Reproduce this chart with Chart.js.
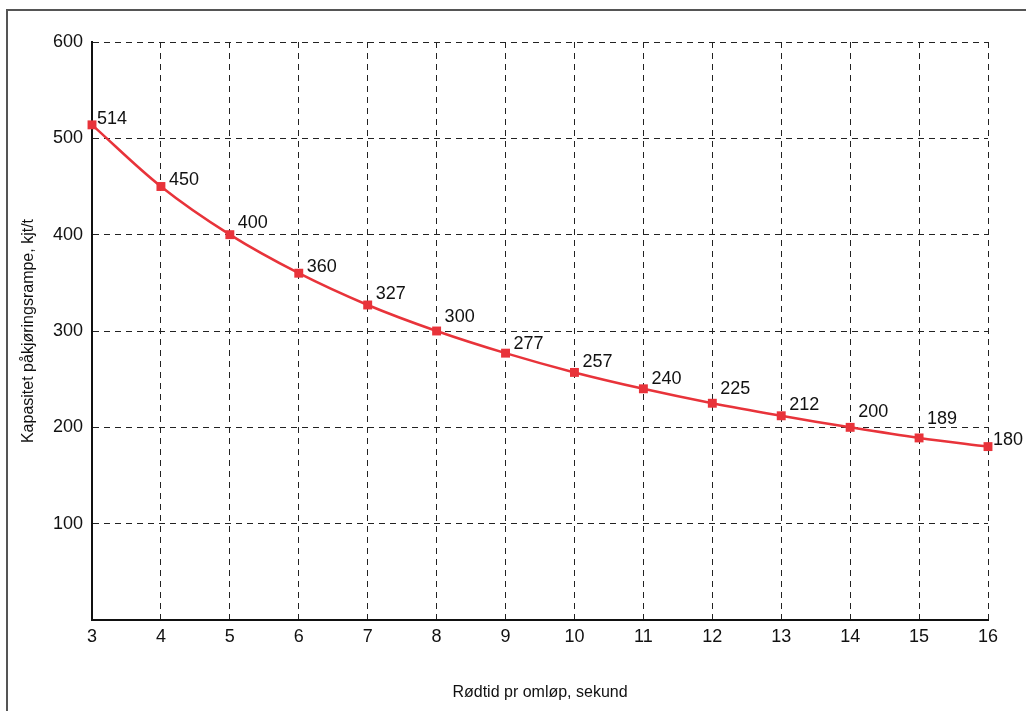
<!DOCTYPE html>
<html>
<head>
<meta charset="utf-8">
<script src="https://cdn.jsdelivr.net/npm/chart.js@4"></script>
<style>
  body { margin: 0; background: #fff; }
  #wrap { position: relative; width: 1026px; height: 711px; }
  #frame {
    position: absolute; left: 6px; top: 9px; right: -10px; bottom: -10px;
    border-top: 2px solid #555; border-left: 2px solid #555;
    pointer-events: none;
  }
</style>
</head>
<body>
<div id="wrap">
  <canvas id="chart" width="1026" height="711"></canvas>
  <div id="frame"></div>
</div>
<script>
// Rødtid (sekund) og kapasitet (kjt/t)
const redTime = [3, 4, 5, 6, 7, 8, 9, 10, 11, 12, 13, 14, 15, 16];
const capacity = [514, 450, 400, 360, 327, 300, 277, 257, 240, 225, 212, 200, 189, 180];
const yTicks = [0, 100, 200, 300, 400, 500, 600];

// how far each value label sits above its point (px), as placed in the original
const labelLift = [1, 2, 7, 1, 6, 9, 4, 5, 5, 9, 6, 10, 14, 2];

const lineColor = "#e8333a";
const fontFamily = "'Liberation Sans', Arial, sans-serif";

// draws the value next to each point
const valueLabels = {
  id: "valueLabels",
  afterDatasetsDraw(chart) {
    const ctx = chart.ctx;
    const meta = chart.getDatasetMeta(0);
    ctx.save();
    ctx.font = "18px " + fontFamily;
    ctx.fillStyle = "#111";
    ctx.textAlign = "left";
    ctx.textBaseline = "alphabetic";
    meta.data.forEach((pt, i) => {
      const dx = i === 0 || i === meta.data.length - 1 ? 5 : 8;
      ctx.fillText(String(capacity[i]), pt.x + dx, pt.y - labelLift[i]);
    });
    ctx.restore();
  },
};

const ctx = document.getElementById("chart").getContext("2d");
new Chart(ctx, {
  type: "line",
  data: {
    datasets: [
      {
        data: redTime.map((x, i) => ({ x: x, y: capacity[i] })),
        borderColor: lineColor,
        backgroundColor: lineColor,
        borderWidth: 2.5,
        tension: 0.35,
        pointStyle: "rect",
        pointRadius: 6.3,
        pointBorderWidth: 0,
        clip: false,
      },
    ],
  },
  options: {
    responsive: false,
    animation: false,
    layout: { padding: { left: 0, right: 38, top: 42, bottom: 0 } },
    plugins: {
      legend: { display: false },
      tooltip: { enabled: false },
    },
    scales: {
      x: {
        type: "linear",
        min: 3,
        max: 16,
        afterBuildTicks: (axis) => {
          axis.ticks = redTime.map((v) => ({ value: v }));
        },
        grid: { color: "#222", lineWidth: 1, drawTicks: false },
        border: { display: true, color: "#111", width: 2, dash: [6, 5] },
        ticks: {
          color: "#111",
          font: { family: fontFamily, size: 18 },
          padding: 6,
          maxRotation: 0,
        },
        title: {
          display: true,
          text: "Rødtid pr omløp, sekund",
          color: "#111",
          font: { family: fontFamily, size: 16 },
          padding: { top: 0, bottom: 9 },
        },
        afterFit: (axis) => {
          axis.height = 91;
        },
      },
      y: {
        type: "linear",
        min: 0,
        max: 600,
        afterBuildTicks: (axis) => {
          axis.ticks = yTicks.map((v) => ({ value: v }));
        },
        grid: { color: "#222", lineWidth: 1, drawTicks: false },
        border: { display: true, color: "#111", width: 2, dash: [6, 5] },
        ticks: {
          color: "#111",
          font: { family: fontFamily, size: 18 },
          padding: 9,
          callback: (v) => (v === 0 ? null : v),
        },
        title: {
          display: true,
          text: "Kapasitet påkjøringsrampe, kjt/t",
          color: "#111",
          font: { family: fontFamily, size: 16 },
          padding: { top: 19, bottom: 0 },
        },
        afterFit: (axis) => {
          axis.width = 92;
        },
      },
    },
  },
  plugins: [valueLabels],
});
</script>
</body>
</html>
